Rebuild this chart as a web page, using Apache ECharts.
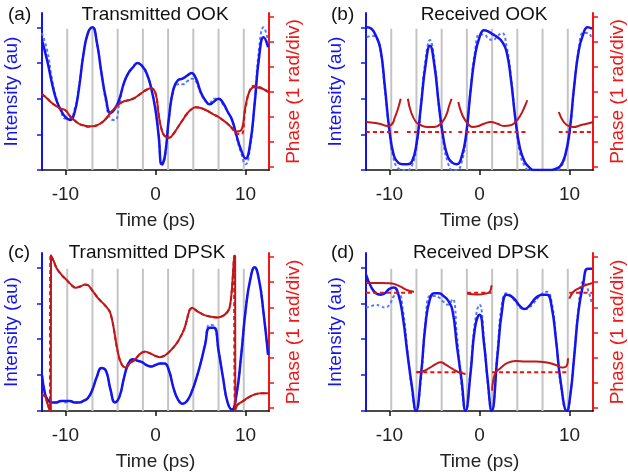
<!DOCTYPE html>
<html>
<head>
<meta charset="utf-8">
<script src="https://cdn.jsdelivr.net/npm/echarts@6/dist/echarts.min.js"></script>
<style>
  html, body { margin: 0; padding: 0; background: #fff; }
  #chart { width: 628px; height: 476px; }
</style>
</head>
<body>
<div id="chart"></div>
<script>
// ---- data ----
const panelLetters = ['(a)', '(b)', '(c)', '(d)'];
const panelTitles = ['Transmitted OOK', 'Received OOK', 'Transmitted DPSK', 'Received DPSK'];
const slotEdges = [-9.8, -7.0, -4.2, -1.4, 1.4, 4.2, 7.0, 9.8]; // bit slot boundaries (ps)
const slotTop = 0.99;
const xTicks = [-10, 0, 10];
const intensityTicks = [0, 0.25, 0.5, 0.75, 1];
const phaseTicks = [0, 1, 2, 3, 4, 5, 6];

// (a) Transmitted OOK
const tA = [-12.6,-12,-11.5,-11,-10.5,-10,-9.5,-9,-8.5,-8,-7.5,-7,-6.5,-6,-5.5,-5,-4.5,-4,-3.5,-3,-2.5,-2,-1.5,-1,-0.5,0,0.35,0.7,1.05,1.5,2,2.5,3,3.5,4,4.5,5,5.5,6,6.5,7,7.5,8,8.5,9,9.5,10,10.5,11,11.5,12,12.5];
const intA = [0.91,0.76,0.61,0.49,0.42,0.37,0.35,0.40,0.57,0.81,0.96,1.00,0.89,0.68,0.50,0.40,0.43,0.50,0.61,0.68,0.72,0.75,0.73,0.68,0.58,0.42,0.24,0.04,0.10,0.37,0.57,0.63,0.64,0.66,0.68,0.64,0.55,0.49,0.46,0.48,0.50,0.47,0.41,0.35,0.24,0.14,0.08,0.18,0.46,0.79,0.93,0.86];
const intARef = [0.96,0.83,0.64,0.50,0.41,0.36,0.36,0.42,0.58,0.81,0.96,1.00,0.89,0.68,0.48,0.36,0.35,0.47,0.61,0.68,0.72,0.75,0.73,0.68,0.58,0.42,0.24,0.03,0.09,0.37,0.56,0.60,0.60,0.62,0.64,0.62,0.54,0.49,0.47,0.50,0.50,0.46,0.41,0.35,0.23,0.12,0.04,0.16,0.47,0.85,1.00,0.90];
const phA = [2.92,2.73,2.56,2.43,2.33,2.27,2.04,1.87,1.73,1.67,1.63,1.63,1.67,1.77,1.93,2.17,2.36,2.53,2.63,2.67,2.73,2.84,2.97,3.09,3.15,2.95,2.10,1.47,1.23,1.17,1.33,1.60,1.87,2.13,2.31,2.39,2.36,2.29,2.20,2.09,2.00,1.87,1.73,1.56,1.42,1.47,2.45,3.07,3.20,3.17,3.11,3.00];
const phARef = [2.92,2.73,2.56,2.43,2.33,2.27,2.04,1.87,1.73,1.66,1.61,1.62,1.67,1.77,1.93,2.17,2.36,2.53,2.63,2.67,2.73,2.84,2.97,3.09,3.15,2.95,2.10,1.47,1.23,1.17,1.33,1.60,1.87,2.13,2.31,2.39,2.36,2.29,2.20,2.09,2.00,1.87,1.73,1.54,1.35,1.30,2.35,3.10,3.25,3.20,3.12,3.00];

// (b) Received OOK
const tB = [-12.5,-12,-11.5,-11,-10.5,-10,-9.5,-9,-8.5,-8,-7.5,-7,-6.5,-6,-5.5,-5,-4.5,-4,-3.5,-3,-2.5,-2,-1.5,-1,-0.5,0,0.5,1,1.5,2,2.5,3,3.5,4,4.5,5,5.5,6,6.5,7,7.5,8,8.5,9,9.5,10,10.5,11,11.5,12,12.5];
const intB = [1.00,0.99,0.94,0.85,0.58,0.28,0.10,0.05,0.04,0.04,0.06,0.18,0.45,0.73,0.87,0.73,0.45,0.22,0.09,0.05,0.04,0.09,0.24,0.55,0.80,0.93,0.98,0.97,0.95,0.93,0.90,0.83,0.63,0.35,0.15,0.06,0.02,0,0,0,0,0,0.01,0.03,0.10,0.27,0.58,0.83,0.95,1.00,0.99];
const intBRef = [0.93,0.94,0.93,0.84,0.56,0.26,0.07,0.01,0,0,0.03,0.16,0.46,0.77,0.91,0.76,0.44,0.19,0.05,0,0,0.05,0.23,0.56,0.83,0.95,0.95,0.92,0.91,0.94,0.96,0.87,0.65,0.34,0.12,0.03,0,0,0,0,0,0,0,0.02,0.09,0.26,0.58,0.84,0.96,0.96,0.92];
const phBT = [[-12.6,-12,-11,-10.2,-9.7,-9.4,-9.05,-8.75],[-7.95,-7.6,-7.05,-6.5,-5.75,-5.0,-4.3,-3.7,-3.35,-3.1],[-2.35,-1.9,-1.3,-0.75,-0.2,0.5,1.25,2.0,2.7,3.45,4.0,4.55,5.0,5.3],[8.8,9.35,9.9,10.45,11.2,11.9,12.6]];
const phB = [[1.80,1.78,1.72,1.64,1.72,1.98,2.33,2.73],[2.73,2.20,1.80,1.67,1.60,1.60,1.73,2.07,2.47,2.73],[2.60,2.07,1.73,1.60,1.63,1.73,1.80,1.73,1.64,1.67,1.80,2.07,2.40,2.67],[2.20,1.80,1.64,1.60,1.67,1.73,1.80]];
const phBRefT = [[-12.6,-8.75],[-8.05,-3.1],[-2.35,5.3],[8.8,12.6]];
const phBRef = [[1.4,1.4],[1.4,1.4],[1.4,1.4],[1.4,1.4]];

// (c) Transmitted DPSK
const tC = [-12.6,-12.3,-12,-11.5,-11,-10.5,-10,-9.5,-9,-8.5,-8,-7.5,-7,-6.5,-6,-5.5,-5,-4.5,-4,-3.5,-3,-2.5,-2,-1.5,-1,-0.5,0,0.5,1,1.5,2,2.5,3,3.5,4,4.5,5,5.5,6,6.5,7,7.5,8,8.5,9,9.5,10,10.5,11,11.5,12,12.5];
const intC = [0.25,0.13,0.08,0.06,0.06,0.07,0.07,0.07,0.06,0.06,0.07,0.09,0.15,0.24,0.30,0.28,0.15,0.06,0.10,0.23,0.33,0.36,0.35,0.34,0.32,0.31,0.32,0.33,0.33,0.28,0.16,0.08,0.05,0.07,0.13,0.22,0.33,0.46,0.58,0.58,0.42,0.23,0.06,0.01,0.12,0.38,0.70,0.91,1.00,0.91,0.68,0.39];
const intCRef = [0.25,0.13,0.08,0.06,0.06,0.07,0.06,0.07,0.06,0.06,0.07,0.09,0.15,0.24,0.30,0.28,0.15,0.06,0.10,0.23,0.34,0.36,0.35,0.34,0.32,0.31,0.32,0.33,0.33,0.28,0.16,0.08,0.05,0.07,0.13,0.22,0.33,0.47,0.60,0.59,0.42,0.23,0.06,0.01,0.12,0.38,0.70,0.91,1.00,0.91,0.68,0.39];
const phCT = [-12.6,-12.25,-11.95,-11.7,-11.62,-11.6,-11.33,-10.96,-10.4,-9.85,-9.3,-8.93,-8.38,-7.83,-7.46,-6.91,-6.35,-5.62,-5.07,-4.7,-4.33,-3.96,-3.59,-3.33,-2.85,-2.3,-1.75,-1.2,-0.64,-0.09,0.46,1.01,1.75,2.49,3.22,3.78,4.07,4.7,5.43,6.17,6.91,7.64,8.2,8.46,8.64,8.75,8.84,8.86,9.11,9.67,10.22,10.96,11.69,12.6];
const phC = [0.53,0.46,0.13,-0.08,-0.08,6.07,5.87,5.54,5.28,5.08,4.88,4.78,4.82,4.91,4.88,4.62,4.35,4.09,3.83,3.30,2.50,1.91,1.65,1.61,1.78,1.91,2.14,2.24,2.18,2.08,2.02,2.08,2.31,2.64,3.17,3.89,3.98,3.83,3.69,3.63,3.60,3.69,3.96,4.62,5.54,6.05,6.05,-0.08,0.13,0.26,0.40,0.53,0.59,0.59];
const phCRefT = [-12.6,-12.25,-11.95,-11.72,-11.68,-11.66,-11.33,-10.96,-10.4,-9.85,-9.3,-8.93,-8.38,-7.83,-7.46,-6.91,-6.35,-5.62,-5.07,-4.7,-4.33,-3.96,-3.59,-3.33,-2.85,-2.3,-1.75,-1.2,-0.64,-0.09,0.46,1.01,1.75,2.49,3.22,3.78,4.07,4.7,5.43,6.17,6.91,7.64,8.2,8.46,8.64,8.73,8.8,8.82,9.11,9.67,10.22,10.96,11.69,12.6];
const phCRef = [0.55,0.45,0.12,-0.08,-0.08,6.07,5.85,5.55,5.27,5.08,4.87,4.79,4.83,4.90,4.87,4.62,4.36,4.08,3.82,3.30,2.48,1.90,1.64,1.60,1.77,1.92,2.14,2.23,2.18,2.07,2.02,2.08,2.31,2.64,3.17,3.90,3.97,3.83,3.69,3.62,3.60,3.70,3.96,4.62,5.54,6.05,6.05,-0.08,0.13,0.26,0.40,0.53,0.59,0.59];

// (d) Received DPSK
const tD = [-12.6,-12,-11.5,-11,-10.5,-10,-9.5,-9,-8.5,-8,-7.5,-7.05,-6.5,-6,-5.5,-5,-4.5,-4,-3.5,-3,-2.5,-2,-1.55,-1,-0.5,0,0.5,0.9,1.35,2,2.5,3,3.5,4,4.5,5,5.5,6,6.5,7,7.5,8,8.5,9,9.7,10.1,10.5,11,11.5,12,12.5];
const intD = [0.95,0.86,0.82,0.81,0.82,0.85,0.86,0.81,0.65,0.40,0.17,0.0,0.25,0.60,0.78,0.82,0.82,0.80,0.77,0.70,0.45,0.22,0.0,0.26,0.58,0.67,0.47,0.22,0.0,0.39,0.70,0.81,0.80,0.77,0.73,0.71,0.73,0.77,0.80,0.81,0.81,0.73,0.49,0.21,0.0,0.12,0.37,0.70,0.88,0.99,0.99];
const intDRef = [0.72,0.73,0.74,0.73,0.72,0.74,0.80,0.82,0.70,0.42,0.15,0.0,0.22,0.62,0.80,0.80,0.79,0.76,0.74,0.78,0.52,0.19,0.0,0.28,0.62,0.74,0.50,0.20,0.0,0.42,0.75,0.82,0.80,0.76,0.72,0.71,0.72,0.75,0.79,0.82,0.83,0.76,0.50,0.19,0.0,0.12,0.38,0.72,0.90,0.85,0.74];
const phDT = [[-12.6,-11,-10,-9.3,-8.75,-8.0,-7.27],[-7.0,-6.35,-5.6,-4.87,-4.32,-3.76,-3.03,-2.29,-1.55],[-1.37,-0.8,-0.07,0.66,1.14,1.33],[1.4,1.51,1.77,2.32,3.06,3.99,5.09,6.2,7.31,8.41,9.15,9.59,9.82],[9.96,10.44,11.0,11.73,12.6]];
const phD = [[4.97,4.97,4.96,4.91,4.82,4.68,4.62],[1.42,1.45,1.58,1.74,1.82,1.72,1.56,1.42,1.35],[4.55,4.52,4.51,4.55,4.62,4.88],[0.69,1.06,1.39,1.58,1.78,1.87,1.85,1.85,1.82,1.72,1.61,1.64,1.98],[4.35,4.62,4.75,4.88,4.97]];
const phDRefT = [[-12.6,-7.27],[-7.0,-1.55],[-1.37,1.33],[1.4,9.82],[9.96,12.6]];
const phDRef = [[4.58,4.58],[1.42,1.42],[4.58,4.58],[1.42,1.42],[4.58,4.58]];

// ---- layout / style ----
const FONT = 'Liberation Sans, Arial, sans-serif';
const FS = 19;
const BLUE = '#1414ee';
const BLUE_DASH = '#5577ff';
const RED_AXIS = '#f01616';
const RED = '#c01818';
const RED_DASH = '#ee1010';

const panels = [
  { grid: { left: 42, top: 13, width: 227, height: 157 }, letter: [8, 15], title: [155, 15],
    tI: tA, inten: intA, intenRef: intARef, phT: [tA], ph: [phA], phRefT: [tA], phRef: [phARef] },
  { grid: { left: 366, top: 13, width: 228, height: 157 }, letter: [331, 15], title: [484, 15],
    tI: tB, inten: intB, intenRef: intBRef, phT: phBT, ph: phB, phRefT: phBRefT, phRef: phBRef },
  { grid: { left: 42, top: 253, width: 227, height: 158 }, letter: [8, 253], title: [147, 253],
    tI: tC, inten: intC, intenRef: intCRef, phT: [phCT], ph: [phC], phRefT: [phCRefT], phRef: [phCRef] },
  { grid: { left: 366, top: 253, width: 229, height: 158 }, letter: [331, 253], title: [481, 253],
    tI: tD, inten: intD, intenRef: intDRef, phT: phDT, ph: phD, phRefT: phDRefT, phRef: phDRef }
];

function pairs(ts, vs) {
  return ts.map((t, k) => [t, vs[k]]);
}

function curve(i, yIdx, data, color, width, type, z, smooth) {
  return {
    type: 'line', xAxisIndex: i, yAxisIndex: yIdx, data: data,
    symbol: 'none', smooth: smooth, silent: true, z: z,
    lineStyle: { color: color, width: width, type: type }
  };
}

const grids = [], xAxes = [], yAxes = [], series = [], graphics = [];

panels.forEach((p, i) => {
  grids.push(p.grid);
  xAxes.push({
    gridIndex: i, type: 'value', min: -12.6, max: 12.6,
    axisLine: { onZero: false, lineStyle: { color: '#111', width: 1.5 } },
    axisTick: { show: true, length: 5, customValues: xTicks, lineStyle: { color: '#111', width: 1.5 } },
    axisLabel: { customValues: xTicks, fontSize: FS, color: '#222', margin: 15, fontFamily: FONT },
    splitLine: { show: false },
    name: 'Time (ps)', nameLocation: 'middle', nameGap: 41,
    nameTextStyle: { fontSize: FS, color: '#222', fontFamily: FONT }
  });
  yAxes.push({
    gridIndex: i, type: 'value', min: 0, max: 1.1, position: 'left',
    axisLine: { show: true, onZero: false, lineStyle: { color: BLUE, width: 2 } },
    axisTick: { show: true, length: 5, customValues: intensityTicks, lineStyle: { color: BLUE, width: 1.5 } },
    axisLabel: { show: false },
    splitLine: { show: false },
    name: 'Intensity (au)', nameLocation: 'middle', nameRotate: 90, nameGap: 21,
    nameTextStyle: { fontSize: FS, color: BLUE, fontFamily: FONT }
  });
  yAxes.push({
    gridIndex: i, type: 'value', min: -0.12, max: 6.16, position: 'right',
    axisLine: { show: true, onZero: false, lineStyle: { color: RED_AXIS, width: 2 } },
    axisTick: { show: true, length: 5, customValues: phaseTicks, lineStyle: { color: RED_AXIS, width: 1.5 } },
    axisLabel: { show: false },
    splitLine: { show: false },
    name: 'Phase (1 rad/div)', nameLocation: 'middle', nameRotate: 90, nameGap: 15,
    nameTextStyle: { fontSize: FS, color: RED_AXIS, fontFamily: FONT }
  });

  // bit slot lines
  slotEdges.forEach(s => {
    series.push(curve(i, 2 * i, [[s, 0], [s, slotTop]], '#c4c4c4', 2, 'solid', 1, false));
  });

  // panel (c) phase has near-vertical 2π wraps, keep its smoothing gentle
  const phSmooth = i === 2 ? 0.25 : 0.5;
  series.push(curve(i, 2 * i, pairs(p.tI, p.intenRef), BLUE_DASH, 2, [3, 2.5], 2, 0.5));
  series.push(curve(i, 2 * i, pairs(p.tI, p.inten), BLUE, 2.5, 'solid', 3, 0.5));
  p.phRefT.forEach((ts, k) => {
    series.push(curve(i, 2 * i + 1, pairs(ts, p.phRef[k]), RED_DASH, 2, [4, 3], 4, phSmooth));
  });
  p.phT.forEach((ts, k) => {
    series.push(curve(i, 2 * i + 1, pairs(ts, p.ph[k]), RED, 2, 'solid', 5, phSmooth));
  });

  graphics.push({
    type: 'text', x: p.letter[0], y: p.letter[1], z: 10,
    style: { text: panelLetters[i], font: FS + 'px ' + FONT, fill: '#111',
             textAlign: 'left', textVerticalAlign: 'middle', align: 'left', verticalAlign: 'middle' }
  });
  graphics.push({
    type: 'text', x: p.title[0], y: p.title[1], z: 10,
    style: { text: panelTitles[i], font: FS + 'px ' + FONT, fill: '#111',
             textAlign: 'center', textVerticalAlign: 'middle', align: 'center', verticalAlign: 'middle' }
  });
});

const chart = echarts.init(document.getElementById('chart'));
chart.setOption({
  animation: false,
  backgroundColor: '#fff',
  grid: grids,
  xAxis: xAxes,
  yAxis: yAxes,
  series: series,
  graphic: graphics
});
</script>
</body>
</html>
